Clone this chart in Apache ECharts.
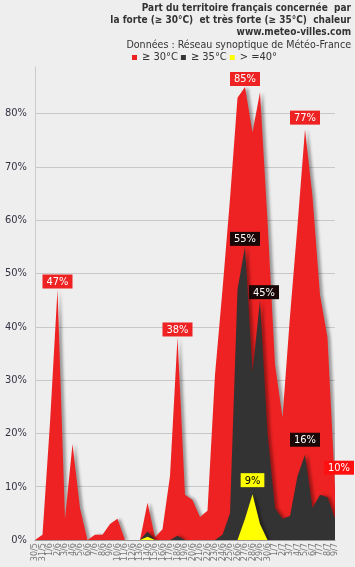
<!DOCTYPE html>
<html><head><meta charset="utf-8">
<script src="https://cdn.jsdelivr.net/npm/echarts@6/dist/echarts.min.js"></script>
<style>html,body{margin:0;padding:0;background:#eeeeee}#c{width:355px;height:567px}</style>
</head><body><div id="c"></div>
<script>
const dates = ['30/5','31/5','1/6','2/6','3/6','4/6','5/6','6/6','7/6','8/6','9/6','10/6','11/6','12/6','13/6','14/6','15/6','16/6','17/6','18/6','19/6','20/6','21/6','22/6','23/6','24/6','25/6','26/6','27/6','28/6','29/6','30/6','1/7','2/7','3/7','4/7','5/7','6/7','7/7','8/7','9/7'];
const hot30 = [0,1,22,47,4,18,6,0,1,1,3,4,0,0,0,7,0.5,2,12,38,8.5,7.5,4.3,5.5,31,47,64,83,85,76.5,84,60,33,23,42,59,77,64.5,46,38,10];
const hot35 = [0,0,0,0,0,0,0,0,0,0,0,0,0,0,0,1.6,0,0,0,0.8,0,0,0,0,0,1,5,47,55,31.5,45,20,6,4,4.5,12,16,6,8.5,8,4];
const hot40 = [0,0,0,0,0,0,0,0,0,0,0,0,0,0,0,0.6,0,0,0,0,0,0,0,0,0,0,0,0,4,8.6,3,0,0,0,0,0,0,0,0,0,0];
const labeled30 = [3,19,28,36,40];
const labeled35 = [28,30,36];
const labeled40 = [29];
const yMax = 88.75;
const seriesNames = ['≥ 30°C','≥ 35°C','> =40°'];

const FONT = '"DejaVu Sans Condensed","DejaVu Sans",sans-serif';
const labelOffsets = {'0-40':[4,-10],'1-30':[4,0]};
const labelDist = {'0-36':5,'1-36':8,'2-29':7,'0-40':2};

function build(vals, idxs, sIdx, bg, fg){
  return vals.map((v,i)=>{
    if(!idxs.includes(i)) return v;
    const key = sIdx+'-'+i;
    return {value:v, symbol:'circle', symbolSize:0, label:{show:true, position:'top',
      distance: labelDist[key]!=null?labelDist[key]:1,
      offset: labelOffsets[key]||[0,0],
      formatter: p=>Math.round(p.value)+'%',
      backgroundColor: (sIdx===0&&i===40)?'#ff1010':bg, color:fg, fontFamily:FONT, fontSize:11, padding:[2,4,1,4]}};
  });
}
const colors = ['#ee2222','#333333','#ffff00'];
function areaSeries(name, data, color, z){
  return {type:'line', name, data, symbol:'none', showAllSymbol:true, silent:true, z,
    lineStyle:{width:0, opacity:0}, itemStyle:{color},
    areaStyle:{color, opacity:1, shadowColor:'rgba(0,0,0,0.35)', shadowBlur:3, shadowOffsetX:3, shadowOffsetY:0},
    emphasis:{disabled:true}};
}
const chart = echarts.init(document.getElementById('c'), null, {renderer:'canvas'});
chart.setOption({
  backgroundColor:'#eeeeee',
  animation:false,
  title:{left:'right', top:3, padding:[0,4,0,0], itemGap:1,
    text:'Part du territoire français concernée  par\nla forte (≥ 30°C)  et très forte (≥ 35°C)  chaleur\nwww.meteo-villes.com',
    textStyle:{fontFamily:FONT, fontSize:10, fontWeight:'bold', color:'#333333', lineHeight:11.8},
    subtext:'Données : Réseau synoptique de Météo-France',
    subtextStyle:{fontFamily:FONT, fontSize:10.6, color:'#333333', lineHeight:12}},
  legend:{left:132, top:52, padding:0, icon:'rect', itemWidth:5, itemHeight:5, itemGap:3,
    textStyle:{fontFamily:FONT, fontSize:11, color:'#333333'},
    data: seriesNames.map((n,k)=>({name:n, itemStyle:{color:colors[k]}}))},
  grid:{left:35, right:20, top:67, bottom:27, containLabel:false},
  xAxis:{type:'category', data:dates, boundaryGap:false,
    axisLine:{lineStyle:{color:'#999999'}}, axisTick:{show:false},
    axisLabel:{rotate:90, interval:0, fontSize:9, color:'#777777', margin:3, fontFamily:FONT}},
  yAxis:{type:'value', min:0, max:yMax, interval:10,
    axisLine:{show:true, lineStyle:{color:'#cccccc'}}, axisTick:{show:false},
    splitLine:{lineStyle:{color:'#c8c8c8'}, showMaxLine:false},
    axisLabel:{formatter:v=>(Math.abs(v%10)<1e-6?v+'%':''), color:'#333344', fontSize:11, margin:8, fontFamily:FONT}},
  series:[
    areaSeries(seriesNames[0], build(hot30, labeled30, 0, '#ee2222', '#ffffff'), colors[0], 1),
    areaSeries(seriesNames[1], build(hot35, labeled35, 1, '#1a0808', '#ffffff'), colors[1], 2),
    areaSeries(seriesNames[2], build(hot40, labeled40, 2, '#ffff00', '#000000'), colors[2], 3)
  ]
});
</script></body></html>
